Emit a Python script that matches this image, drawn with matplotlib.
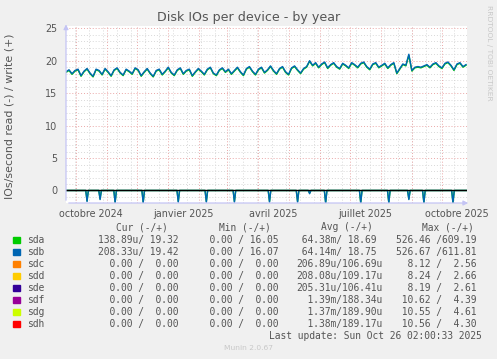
import matplotlib
matplotlib.use("Agg")
import matplotlib.pyplot as plt
import matplotlib.dates as mdates
from matplotlib.patches import Rectangle
import numpy as np
from datetime import datetime, timedelta

# time range of the year graph (400 days)
start = datetime(2024, 9, 21)
end = datetime(2025, 10, 26)
step_days = 3  # one write sample every 3 days

# write IOs/s (positive side)
sda_write = [18.2, 18.5, 17.9, 18.4, 18.6, 17.6, 18.3, 18.7, 18.0, 17.5,
             18.6, 18.4, 17.8, 18.7, 18.2, 17.6, 18.5, 18.8, 18.1, 17.7,
             18.6, 18.3, 17.9, 18.8, 18.5, 17.6, 18.2, 18.7, 18.0, 17.5,
             18.4, 18.6, 17.8, 18.3, 18.9, 18.1, 17.7, 18.5, 18.8, 17.9,
             18.4, 18.6, 17.6, 18.2, 18.7, 18.3, 17.8, 18.6, 18.9, 18.0,
             17.7, 18.5, 18.8, 18.2,
             18.6, 17.9, 18.4, 18.9, 18.2, 17.7, 18.7, 19.0, 18.3, 17.8,
             18.6, 18.9, 18.1, 18.5, 19.1, 18.4, 17.9, 18.7, 19.0, 18.2,
             17.8, 18.8, 19.1, 18.5, 18.0, 18.7, 19.0,
             19.9, 19.2, 19.6, 18.9, 19.4, 19.7, 18.8, 19.3, 19.6, 19.0,
             18.7, 19.5, 19.2, 18.8, 19.6, 19.3, 18.9, 19.5, 19.7, 19.0,
             18.6, 19.4, 19.6, 18.9, 19.2, 19.5, 18.8, 19.3, 19.6, 18.0,
             18.7, 19.4,
             19.2, 20.8, 18.4,
             18.9, 19.0, 18.9, 19.1, 19.3, 18.9, 19.4, 19.6, 19.1, 18.8,
             19.5, 19.7, 19.2, 18.5, 19.4, 19.6, 19.0, 19.3]
sdb_write = [18.3, 18.6, 18.0, 18.5, 18.7, 17.7, 18.4, 18.8, 18.1, 17.6,
             18.7, 18.5, 17.9, 18.8, 18.3, 17.7, 18.6, 18.9, 18.2, 17.8,
             18.7, 18.4, 18.0, 18.9, 18.6, 17.7, 18.3, 18.8, 18.1, 17.6,
             18.5, 18.7, 17.9, 18.4, 19.0, 18.2, 17.8, 18.6, 18.9, 18.0,
             18.5, 18.7, 17.7, 18.3, 18.8, 18.4, 17.9, 18.7, 19.0, 18.1,
             17.8, 18.6, 18.9, 18.3,
             18.7, 18.0, 18.5, 19.0, 18.3, 17.8, 18.8, 19.1, 18.4, 17.9,
             18.7, 19.0, 18.2, 18.6, 19.2, 18.5, 18.0, 18.8, 19.1, 18.3,
             17.9, 18.9, 19.2, 18.6, 18.1, 18.8, 19.1,
             20.0, 19.3, 19.7, 19.0, 19.5, 19.8, 18.9, 19.4, 19.7, 19.1,
             18.8, 19.6, 19.3, 18.9, 19.7, 19.4, 19.0, 19.6, 19.8, 19.1,
             18.7, 19.5, 19.7, 19.0, 19.3, 19.6, 18.9, 19.4, 19.7, 18.1,
             18.8, 19.5,
             19.3, 21.0, 18.5,
             19.0, 19.1, 19.0, 19.2, 19.4, 19.0, 19.5, 19.7, 19.2, 18.9,
             19.6, 19.8, 19.3, 18.6, 19.5, 19.7, 19.1, 19.4]

# read IOs/s (drawn negative): short bursts, day offset from start
read_days = [21, 34, 49, 77, 112, 140, 168, 203, 231, 243, 259, 294, 322, 342, 357, 386]
sda_read = [1.6, 1.3, 1.8, 1.8, 1.7, 1.7, 1.7, 1.7, 1.7, 0.4, 1.9, 1.9, 1.9, 1.3, 1.9, 1.9]
sdb_read = [1.7, 1.4, 1.9, 1.9, 1.8, 1.8, 1.8, 1.8, 1.8, 0.5, 1.9, 1.9, 1.9, 1.4, 1.9, 1.9]

x_labels = ["octobre 2024", "janvier 2025", "avril 2025", "juillet 2025", "octobre 2025"]
x_label_dates = [datetime(2024, 10, 16), datetime(2025, 1, 16), datetime(2025, 4, 16),
                 datetime(2025, 7, 16), datetime(2025, 10, 16)]

devices = ["sda", "sdb", "sdc", "sdd", "sde", "sdf", "sdg", "sdh"]
colors = ["#00CC00", "#0066B3", "#FF8000", "#FFCC00", "#330099", "#990099", "#CCFF00", "#FF0000"]
cur = ["138.89u/ 19.32 ", "208.33u/ 19.42 ", "  0.00 /  0.00 ", "  0.00 /  0.00 ",
       "  0.00 /  0.00 ", "  0.00 /  0.00 ", "  0.00 /  0.00 ", "  0.00 /  0.00 "]
mins = ["  0.00 / 16.05 ", "  0.00 / 16.07 ", "  0.00 /  0.00 ", "  0.00 /  0.00 ",
        "  0.00 /  0.00 ", "  0.00 /  0.00 ", "  0.00 /  0.00 ", "  0.00 /  0.00 "]
avgs = [" 64.38m/ 18.69 ", " 64.14m/ 18.75 ", "206.89u/106.69u", "208.08u/109.17u",
        "205.31u/106.41u", "  1.39m/188.34u", "  1.37m/189.90u", "  1.38m/189.17u"]
maxs = ["526.46 /609.19 ", "526.67 /611.81 ", "  8.12 /  2.56 ", "  8.24 /  2.66 ",
        "  8.19 /  2.61 ", " 10.62 /  4.39 ", " 10.55 /  4.61 ", " 10.56 /  4.30 "]

W, H = 497, 359
def fx(px):
    return px / W
def fy(py):
    return 1 - py / H

fig = plt.figure(figsize=(W / 100, H / 100), dpi=100, facecolor="#F0F0F0")
ax = fig.add_axes([fx(66), fy(203), 401 / W, 177 / H])
ax.set_facecolor("white")

t0 = mdates.date2num(start)
t1 = mdates.date2num(end)
ymin, ymax = -1.93, 25.35

# grid
for v in range(-1, 26):
    if v % 5 == 0:
        continue
    ax.axhline(v, color="#d8d8d8", lw=0.7, ls=(0, (1, 2)), zorder=1)
d = datetime(2024, 9, 30)
while d < end:
    ax.axvline(mdates.date2num(d), color="#d8d8d8", lw=0.7, ls=(0, (1, 2)), zorder=1)
    d += timedelta(days=14)
for v in range(0, 26, 5):
    ax.axhline(v, color="#eaa8a8", lw=0.7, ls=(0, (1, 2)), zorder=2)
m = datetime(2024, 10, 1)
while m < end:
    ax.axvline(mdates.date2num(m), color="#eaa8a8", lw=0.7, ls=(0, (1, 2)), zorder=2)
    m = datetime(m.year + (m.month // 12), m.month % 12 + 1, 1)

# write series
tw = [t0 + i * step_days for i in range(len(sda_write))]
ax.plot(tw, sda_write, color=colors[0], lw=1.0, zorder=4)
ax.plot(tw, sdb_write, color=colors[1], lw=1.0, zorder=5)

# read series
def read_line(depths):
    ts, vs = [t0], [0]
    for day, dep in zip(read_days, depths):
        ts += [t0 + day - 1.3, t0 + day, t0 + day + 1.3]
        vs += [0, -dep, 0]
    ts.append(t1)
    vs.append(0)
    return ts, vs

ts, vs = read_line(sda_read)
ax.plot(ts, vs, color=colors[0], lw=1.0, zorder=4)
ts, vs = read_line(sdb_read)
ax.plot(ts, vs, color=colors[1], lw=1.0, zorder=5)
ax.axhline(0, color="black", lw=1.0, zorder=6)

ax.set_xlim(t0, t1)
ax.set_ylim(ymin, ymax)
for s in ax.spines.values():
    s.set_visible(False)

ax.set_xticks([mdates.date2num(x) for x in x_label_dates])
ax.set_xticklabels(x_labels)
ax.set_yticks([0, 5, 10, 15, 20, 25])
ax.tick_params(axis="both", length=0, labelsize=6.9, labelcolor="#555555")
ax.tick_params(axis="x", pad=4)
ax.tick_params(axis="y", pad=6)

# axis lines with arrows
ax.annotate("", xy=(0, 1.025), xytext=(0, 0), xycoords="axes fraction",
            arrowprops=dict(arrowstyle="-|>", color="#c4c4f4", lw=0.9, mutation_scale=7),
            annotation_clip=False, zorder=7)
ax.annotate("", xy=(1.01, 0), xytext=(0, 0), xycoords="axes fraction",
            arrowprops=dict(arrowstyle="-|>", color="#c4c4f4", lw=0.9, mutation_scale=7),
            annotation_clip=False, zorder=7)

fig.text(fx(248.5), fy(18), "Disk IOs per device - by year", ha="center", va="center",
         fontsize=9.1, color="#555555")
fig.text(fx(10), fy(116), "IOs/second read (-) / write (+)", rotation=90, ha="center",
         va="center", fontsize=7.9, color="#555555")
fig.text(fx(489), fy(53), "RRDTOOL / TOBI OETIKER", rotation=270, ha="center", va="center",
         fontsize=5.4, color="#c8c8c8")

# legend table
mono = dict(family="DejaVu Sans Mono", fontsize=6.9, color="#555555", va="center")
hy = 227
fig.text(fx(116), fy(hy), "Cur (-/+)", **mono)
fig.text(fx(219), fy(hy), "Min (-/+)", **mono)
fig.text(fx(321), fy(hy), "Avg (-/+)", **mono)
fig.text(fx(422), fy(hy), "Max (-/+)", **mono)
for i, dev in enumerate(devices):
    y = 240 + i * 12
    fig.patches.append(Rectangle((fx(13.3), fy(y + 3.3)), 6.7 / W, 6.7 / H,
                                 transform=fig.transFigure, color=colors[i]))
    fig.text(fx(26.7), fy(y), dev, **mono)
    fig.text(fx(98), fy(y), cur[i], **mono)
    fig.text(fx(198), fy(y), mins[i], **mono)
    fig.text(fx(296), fy(y), avgs[i], **mono)
    fig.text(fx(396), fy(y), maxs[i], **mono)
fig.text(fx(482), fy(336), "Last update: Sun Oct 26 02:00:33 2025", ha="right", **{k: v for k, v in mono.items()})
fig.text(fx(248), fy(348), "Munin 2.0.67", ha="center", va="center", fontsize=5.4, color="#c8c8c8")

fig.savefig("out.png", dpi=100, facecolor=fig.get_facecolor())
